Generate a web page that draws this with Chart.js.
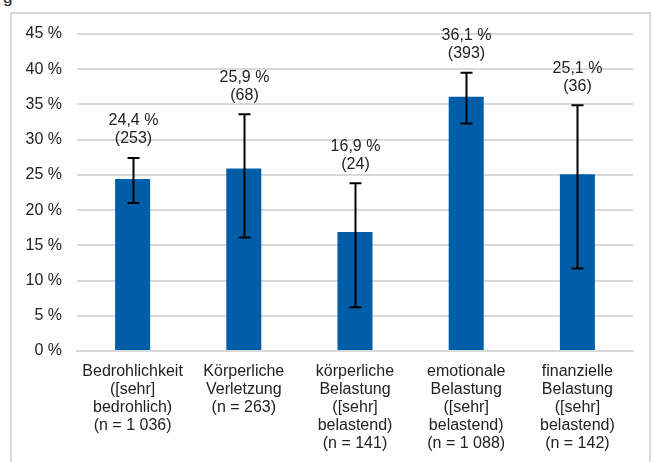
<!DOCTYPE html>
<html>
<head>
<meta charset="utf-8">
<script src="https://cdn.jsdelivr.net/npm/chart.js@4/dist/chart.umd.min.js"></script>
<style>
  body { margin: 0; background: #fff; overflow: hidden; }
  #wrap { position: relative; width: 655px; height: 462px; }
  #frame { position: absolute; left: 10px; top: 12px; width: 641px; height: 470px; border: 2px solid #d9d9d9; box-sizing: border-box; }
  #cut { position: absolute; left: 3px; top: -12px; font: 17px "Liberation Sans", Arial, sans-serif; color: #222; }
  canvas { position: absolute; left: 0; top: 0; }
</style>
</head>
<body>
<div id="wrap">
  <div id="cut">g</div>
  <div id="frame"></div>
  <canvas id="chart" width="655" height="462"></canvas>
</div>
<script>
// categories and values
var categories = [
    ['Bedrohlichkeit', '([sehr]', 'bedrohlich)', '(n = 1 036)'],
    ['Körperliche', 'Verletzung', '(n = 263)'],
    ['körperliche', 'Belastung', '([sehr]', 'belastend)', '(n = 141)'],
    ['emotionale', 'Belastung', '([sehr]', 'belastend)', '(n = 1 088)'],
    ['finanzielle', 'Belastung', '([sehr]', 'belastend)', '(n = 142)']
];
var percent = [24.4, 25.9, 16.9, 36.1, 25.1];
var counts = [253, 68, 24, 393, 36];
var errLow = [21.0, 16.1, 6.2, 32.3, 11.7];
var errHigh = [27.4, 33.6, 23.8, 39.5, 34.9];

var FONT = '"Liberation Sans", Arial, sans-serif';
var TEXT = '#222222';
var SIZE = 16;

function fmt(v) {
    return v.toFixed(1).replace('.', ',') + ' %';
}

// error bars + the two-line labels above them
var errorBars = {
    id: 'errorBars',
    afterDatasetsDraw(chart) {
        var ctx = chart.ctx;
        var meta = chart.getDatasetMeta(0);
        var y = chart.scales.y;
        ctx.save();
        ctx.strokeStyle = '#000';
        ctx.lineWidth = 2;
        meta.data.forEach(function (bar, i) {
            var x = Math.round(bar.x) + 0.5;
            var top = y.getPixelForValue(errHigh[i]);
            var bot = y.getPixelForValue(errLow[i]);
            ctx.beginPath();
            ctx.moveTo(x, top); ctx.lineTo(x, bot);
            ctx.moveTo(x - 6, top); ctx.lineTo(x + 6, top);
            ctx.moveTo(x - 6, bot); ctx.lineTo(x + 6, bot);
            ctx.stroke();

            ctx.fillStyle = TEXT;
            ctx.font = SIZE + 'px ' + FONT;
            ctx.textAlign = 'center';
            ctx.textBaseline = 'middle';
            ctx.fillText(fmt(percent[i]), x, top - 37);
            ctx.fillText('(' + counts[i] + ')', x, top - 19);
        });
        ctx.restore();
    }
};

var ctx = document.getElementById('chart').getContext('2d');
var chart = new Chart(ctx, {
    type: 'bar',
    plugins: [errorBars],
    data: {
        labels: categories,
        datasets: [{
            data: percent,
            backgroundColor: '#005ea8',
            borderWidth: 0,
            barPercentage: 0.63,
            categoryPercentage: 0.5
        }]
    },
    options: {
        responsive: false,
        animation: false,
        layout: { padding: { top: 34, right: 22, left: 0, bottom: 0 } },
        plugins: {
            legend: { display: false },
            tooltip: { enabled: false }
        },
        scales: {
            x: {
                grid: { display: false },
                border: { color: '#d9d9d9', width: 2 },
                ticks: {
                    color: TEXT,
                    font: { family: FONT, size: SIZE, lineHeight: 1.14 },
                    padding: 3,
                    maxRotation: 0,
                    autoSkip: false
                },
                afterFit(scale) { scale.height = 111; }
            },
            y: {
                min: 0,
                max: 45,
                grid: { color: '#d9d9d9', lineWidth: 2, drawTicks: false },
                border: { display: false },
                ticks: {
                    stepSize: 5,
                    color: TEXT,
                    font: { family: FONT, size: SIZE },
                    padding: 15,
                    callback: function (v) { return v + ' %'; }
                },
                afterFit(scale) { scale.width = 77; }
            }
        }
    }
});
</script>
</body>
</html>
